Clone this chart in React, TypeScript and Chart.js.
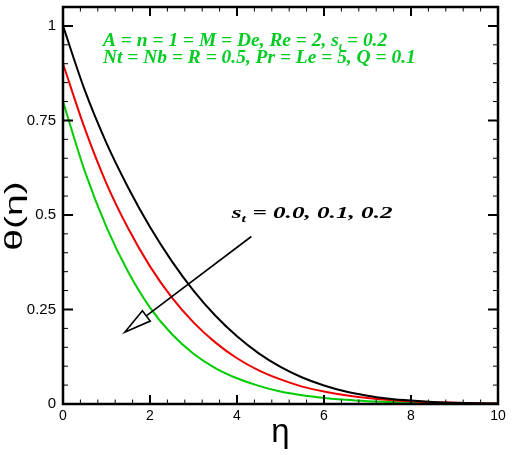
import React, { useEffect, useRef } from "react";
import { Chart, registerables } from "chart.js";

Chart.register(...registerables);

// eta values
const eta = [0, 0.5, 1, 1.5, 2, 2.5, 3, 3.5, 4, 4.5, 5, 5.5, 6, 6.5, 7, 7.5, 8, 8.5, 9, 9.5, 10];
// theta(eta) for s_t = 0.0, 0.1, 0.2
const thetaSt00 = [1.0, 0.83, 0.69, 0.572, 0.468, 0.378, 0.3, 0.234, 0.179, 0.134, 0.098, 0.07, 0.049, 0.033, 0.022, 0.014, 0.009, 0.0055, 0.0033, 0.0019, 0.001];
const thetaSt01 = [0.9, 0.729, 0.583, 0.464, 0.364, 0.282, 0.216, 0.163, 0.121, 0.089, 0.065, 0.046, 0.033, 0.023, 0.0156, 0.0105, 0.007, 0.0046, 0.003, 0.0019, 0.0012];
const thetaSt02 = [0.8, 0.616, 0.468, 0.349, 0.255, 0.185, 0.133, 0.095, 0.068, 0.048, 0.033, 0.023, 0.016, 0.011, 0.0075, 0.005, 0.0033, 0.0022, 0.0014, 0.0009, 0.0005];

const seriesColors = ["#000000", "#ee0000", "#00cc00"];
const xMajorStep = 2;
const yMajorStep = 0.25;
const paramLine1 = ["A = n = 1 = M = De, Re = 2, s", "t", " = 0.2"];
const paramLine2 = "Nt = Nb = R = 0.5, Pr = Le = 5, Q = 0.1";
const stLabel = ["s", "t", " = 0.0, 0.1, 0.2"];

function drawSub(ctx: any, parts: string[], x: number, y: number, big: string, small: string, sx: number, subDy: number) {
  ctx.save();
  ctx.translate(x, y);
  ctx.scale(sx, 1);
  let tx = 0;
  ctx.font = big;
  ctx.fillText(parts[0], tx, 0);
  tx += ctx.measureText(parts[0]).width;
  ctx.font = small;
  ctx.fillText(parts[1], tx, subDy);
  tx += ctx.measureText(parts[1]).width;
  ctx.font = big;
  ctx.fillText(parts[2], tx, 0);
  ctx.restore();
}

const decor = {
  id: "decor",
  afterDatasetsDraw(chart: any) {
    const { ctx, chartArea: a } = chart;
    const xs = chart.scales.x;
    const ys = chart.scales.y;
    ctx.save();
    ctx.strokeStyle = "#000";
    for (let i = 0; i <= 25; i++) {
      const v = i * 0.4;
      const major = i % 5 === 0;
      const px = xs.getPixelForValue(v);
      const len = major ? 9 : 4.5;
      ctx.lineWidth = major ? 2 : 1;
      ctx.beginPath();
      ctx.moveTo(px, a.bottom);
      ctx.lineTo(px, a.bottom - len);
      ctx.moveTo(px, a.top);
      ctx.lineTo(px, a.top + len);
      ctx.stroke();
    }
    for (let i = 0; i <= 20; i++) {
      const v = i * 0.05;
      const major = i % 5 === 0;
      const py = ys.getPixelForValue(v);
      const len = major ? 10 : 5;
      ctx.lineWidth = major ? 2 : 1;
      ctx.beginPath();
      ctx.moveTo(a.left, py);
      ctx.lineTo(a.left + len, py);
      ctx.moveTo(a.right, py);
      ctx.lineTo(a.right - len, py);
      ctx.stroke();
    }
    ctx.lineWidth = 2.5;
    ctx.strokeRect(a.left, a.top, a.right - a.left, a.bottom - a.top);

    // parameter text (green)
    ctx.fillStyle = "#00cc22";
    ctx.textBaseline = "alphabetic";
    ctx.textAlign = "left";
    const gBig = "italic bold 18px 'Liberation Serif', serif";
    const gSmall = "italic bold 11px 'Liberation Serif', serif";
    const gx = xs.getPixelForValue(0.92);
    drawSub(ctx, paramLine1, gx, ys.getPixelForValue(0.947), gBig, gSmall, 1.08, 4);
    ctx.save();
    ctx.translate(gx, ys.getPixelForValue(0.902));
    ctx.scale(1.08, 1);
    ctx.font = gBig;
    ctx.fillText(paramLine2, 0, 0);
    ctx.restore();

    // s_t label (black)
    ctx.fillStyle = "#000";
    drawSub(ctx, stLabel, xs.getPixelForValue(3.88), ys.getPixelForValue(0.493),
      "italic bold 17px 'Liberation Serif', serif", "italic bold 11px 'Liberation Serif', serif", 1.48, 4);

    // arrow
    const sx = xs.getPixelForValue(4.33), sy = ys.getPixelForValue(0.443);
    const ex = xs.getPixelForValue(1.42), ey = ys.getPixelForValue(0.19);
    const dx = ex - sx, dy = ey - sy;
    const L = Math.hypot(dx, dy);
    const ux = dx / L, uy = dy / L;
    const hl = 27, hw = 6.5;
    const bx = ex - ux * hl, by = ey - uy * hl;
    const nx = -uy, ny = ux;
    ctx.strokeStyle = "#000";
    ctx.lineWidth = 1.6;
    ctx.beginPath();
    ctx.moveTo(sx, sy);
    ctx.lineTo(bx, by);
    ctx.stroke();
    ctx.beginPath();
    ctx.moveTo(ex, ey);
    ctx.lineTo(bx + nx * hw, by + ny * hw);
    ctx.lineTo(bx - nx * hw, by - ny * hw);
    ctx.closePath();
    ctx.fillStyle = "#fff";
    ctx.fill();
    ctx.stroke();

    // axis titles
    ctx.fillStyle = "#000";
    ctx.font = "33px 'Liberation Sans', Arial, sans-serif";
    ctx.textAlign = "center";
    ctx.fillText("\u03B7", (a.left + a.right) / 2, 442);
    ctx.save();
    ctx.translate(16, 216);
    ctx.rotate(-Math.PI / 2);
    ctx.scale(1, 0.6);
    ctx.font = "39px 'Liberation Sans', Arial, sans-serif";
    ctx.textBaseline = "middle";
    ctx.fillText("\u03B8(\u03B7)", 0, 0);
    ctx.restore();
    ctx.restore();
  },
};

export default function App() {
  const ref = useRef<HTMLCanvasElement | null>(null);
  useEffect(() => {
    document.body.style.margin = "0";
    const mk = (vals: number[], i: number) => ({
      data: eta.map((e, k) => ({ x: e, y: vals[k] })),
      borderColor: seriesColors[i],
      borderWidth: 2,
      pointRadius: 0,
      fill: false,
      cubicInterpolationMode: "monotone" as const,
    });
    const chart = new Chart(ref.current as HTMLCanvasElement, {
      type: "line",
      data: { datasets: [mk(thetaSt00, 0), mk(thetaSt01, 1), mk(thetaSt02, 2)] },
      options: {
        animation: false,
        responsive: false,
        maintainAspectRatio: false,
        layout: { padding: { top: 7, right: 14, left: 0, bottom: 0 } },
        plugins: { legend: { display: false }, tooltip: { enabled: false } },
        scales: {
          x: {
            type: "linear",
            min: 0,
            max: 10,
            grid: { display: false, drawTicks: false },
            border: { display: false },
            ticks: {
              stepSize: xMajorStep,
              padding: 4,
              color: "#000",
              font: { size: 14, family: "'Liberation Sans', Arial, sans-serif" },
              maxRotation: 0,
              callback: (v: any) => String(v),
            },
            afterFit: (s: any) => { s.height = 51; },
          },
          y: {
            type: "linear",
            min: 0,
            max: 1.05,
            grid: { display: false, drawTicks: false },
            border: { display: false },
            ticks: {
              stepSize: yMajorStep,
              includeBounds: false,
              padding: 7,
              color: "#000",
              font: { size: 15, family: "'Liberation Sans', Arial, sans-serif" },
              callback: (v: any) => (v > 1.01 ? "" : String(Math.round(v * 100) / 100)),
            },
            afterFit: (s: any) => { s.width = 63; s.paddingTop = 0; s.paddingBottom = 0; },
          },
        },
      },
      plugins: [decor],
    });
    return () => chart.destroy();
  }, []);
  return <canvas ref={ref} width={512} height={455} style={{ display: "block" }} />;
}
